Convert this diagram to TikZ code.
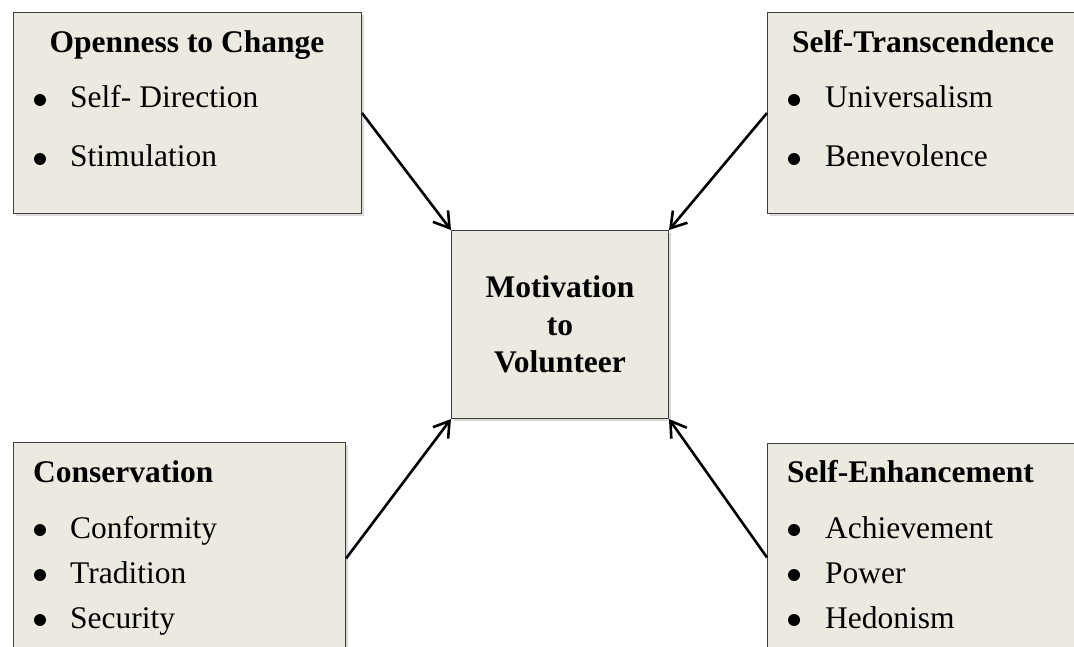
\documentclass[tikz,border=0pt]{standalone}
\usepackage{fontspec}
\setmainfont{Liberation Serif}
\usetikzlibrary{arrows.meta, shadows}

\definecolor{boxfill}{RGB}{236,234,224}
\definecolor{boxline}{RGB}{64,64,64}
\newcommand{\boxfont}{\fontsize{31.5}{37.5}\selectfont}

\begin{document}
\begin{tikzpicture}[
        x=1pt, y=-1pt,
        box/.style={rectangle, draw=boxline, line width=1pt, fill=boxfill, anchor=north west,
            drop shadow={shadow xshift=2pt, shadow yshift=-2.5pt, opacity=0.3}},
        head/.style={font=\boxfont\bfseries, inner sep=0pt, anchor=base west},
        entry/.style={font=\boxfont, inner sep=0pt, anchor=base west},
        link/.style={line width=2.6pt, -{Straight Barb[length=15pt, width=19pt]}}
    ]
    \useasboundingbox (0,0) rectangle (1074,647);
    \clip (0,0) rectangle (1074,647);

    % the four value groups and the centre box
    \node[box, minimum width=348pt, minimum height=201pt] (open) at (13,12) {};
    \node[box, minimum width=348pt, minimum height=201pt] (trans) at (767,12) {};
    \node[box, minimum width=332pt, minimum height=232pt] (cons) at (13,442) {};
    \node[box, minimum width=348pt, minimum height=228pt] (enh) at (767,443) {};
    \node[box, minimum width=217pt, minimum height=188pt, align=center,
        font=\boxfont\bfseries] (mot) at (451,230) {Motivation\\to\\Volunteer};

    % Openness to Change
    \node[head, anchor=base] (openT) at (187,53) {Openness to Change};
    \node[entry] (open1) at (70,108) {Self- Direction};
    \node[entry] (open2) at (70,167) {Stimulation};

    % Self-Transcendence
    \node[head] (transT) at (792,53) {Self-Transcendence};
    \node[entry] (trans1) at (825,108) {Universalism};
    \node[entry] (trans2) at (825,167) {Benevolence};

    % Conservation
    \node[head] (consT) at (33,482) {Conservation};
    \node[entry] (cons1) at (70,538) {Conformity};
    \node[entry] (cons2) at (70,583) {Tradition};
    \node[entry] (cons3) at (70,628) {Security};

    % Self-Enhancement
    \node[head] (enhT) at (787,482) {Self-Enhancement};
    \node[entry] (enh1) at (825,538) {Achievement};
    \node[entry] (enh2) at (825,583) {Power};
    \node[entry] (enh3) at (825,628) {Hedonism};

    % list bullets
    \foreach \y in {100,159,530,575,620} \fill (40,\y) circle (6pt);
    \foreach \y in {100,159,530,575,620} \fill (794,\y) circle (6pt);

    % arrows into the centre
    \draw[link] (open.east) -- (mot.north west);
    \draw[link] (trans.west) -- (mot.north east);
    \draw[link] (cons.east) -- (mot.south west);
    \draw[link] (enh.west) -- (mot.south east);
\end{tikzpicture}
\end{document}
